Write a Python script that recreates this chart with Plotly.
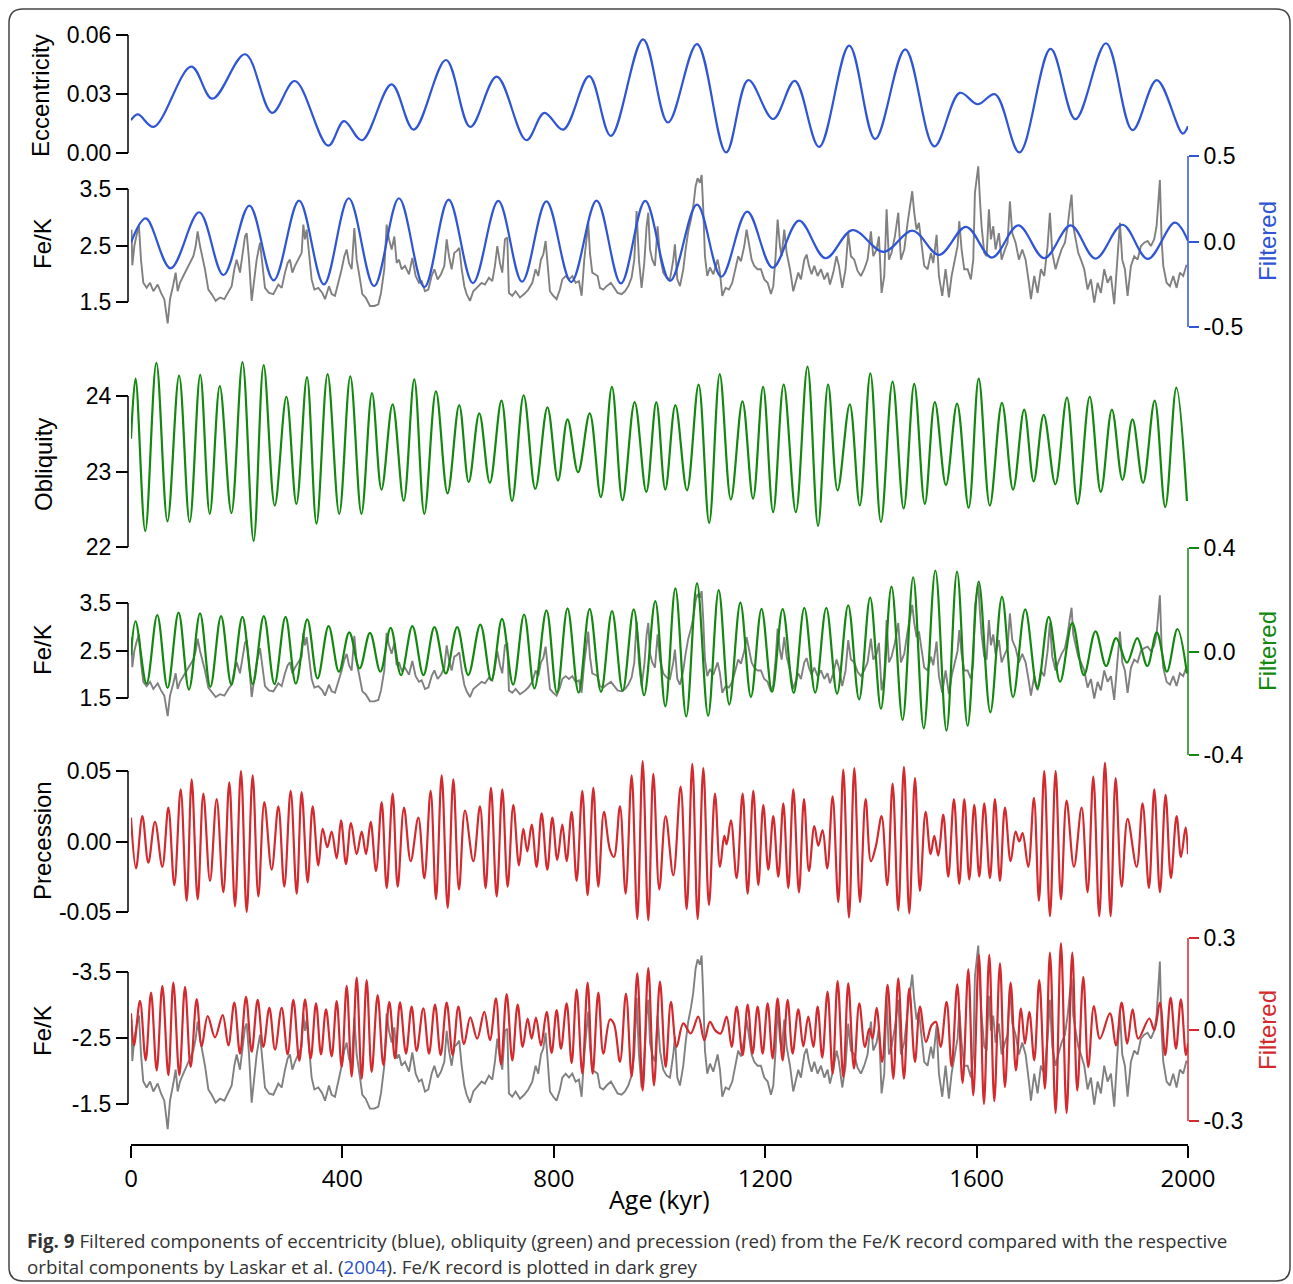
import plotly.graph_objects as go

# ---------------- data ----------------
ecc_age = [0, 13, 43, 114, 154, 216, 267, 310, 373, 403, 437, 493, 535, 596, 642, 692, 748, 782, 818, 867,
           908, 969, 1016, 1071, 1126, 1168, 1215, 1256, 1302, 1359, 1408, 1465, 1520, 1568, 1602, 1635, 1681,
           1740, 1787, 1845, 1895, 1941, 1990, 2000]
ecc_val = [0.0167, 0.0196, 0.0133, 0.0439, 0.0276, 0.0502, 0.0204, 0.0366, 0.0037, 0.0162, 0.0065, 0.0349,
           0.0119, 0.0473, 0.0133, 0.0388, 0.0065, 0.0204, 0.0119, 0.0391, 0.0087, 0.0578, 0.0155, 0.0554,
           0.0003, 0.0371, 0.0173, 0.0367, 0.0031, 0.0546, 0.0071, 0.0527, 0.0034, 0.0306, 0.0248, 0.0299,
           0.0003, 0.0529, 0.0172, 0.0558, 0.0116, 0.0371, 0.0099, 0.0136]

ecc_filt_age = [0, 28, 75, 129, 175, 224, 270, 318, 365, 412, 460, 507, 555, 601, 647, 695, 740, 786, 833, 881,
                927, 973, 1020, 1071, 1117, 1166, 1214, 1264, 1314, 1365, 1424, 1479, 1529, 1580, 1629, 1679,
                1728, 1778, 1825, 1876, 1924, 1975, 2000]
ecc_filt_val = [-0.006, 0.135, -0.157, 0.171, -0.196, 0.210, -0.227, 0.239, -0.251, 0.253, -0.261, 0.253,
                -0.267, 0.245, -0.243, 0.237, -0.235, 0.235, -0.237, 0.239, -0.245, 0.237, -0.231, 0.216,
                -0.206, 0.175, -0.153, 0.122, -0.098, 0.067, -0.061, 0.063, -0.078, 0.086, -0.094, 0.094,
                -0.098, 0.094, -0.100, 0.098, -0.102, 0.110, 0.004]

obl_age = [0, 8.6, 27, 48, 69, 91, 111, 131, 149, 168, 190, 211, 232, 251, 272, 294, 313, 333, 351, 372,
           394, 415, 436, 456, 474, 495, 516, 536, 555, 577, 599, 621, 639, 659, 679, 701, 721, 743, 765, 788,
           808, 826, 846, 868, 889, 910, 930, 953, 975, 994, 1011, 1030, 1052, 1074, 1094, 1114, 1135, 1157,
           1177, 1196, 1215, 1235, 1258, 1280, 1300, 1319, 1337, 1360, 1379, 1399, 1419, 1441, 1462, 1482,
           1502, 1521, 1542, 1563, 1585, 1604, 1625, 1648, 1669, 1690, 1708, 1727, 1749, 1771, 1791, 1814,
           1835, 1856, 1876, 1895, 1915, 1937, 1957, 1978, 1998]
obl_val = [23.435, 24.23, 22.21, 24.44, 22.34, 24.27, 22.33, 24.28, 22.44, 24.13,
           22.45, 24.45, 22.08, 24.41, 22.55, 23.99, 22.57, 24.25, 22.31, 24.29,
           22.44, 24.26, 22.44, 24.04, 22.76, 23.89, 22.61, 24.22, 22.44, 24.06,
           22.71, 23.88, 22.86, 23.77, 22.85, 23.94, 22.61, 24.01, 22.77, 23.85,
           22.88, 23.69, 22.99, 23.77, 22.66, 24.12, 22.62, 23.92, 22.73, 23.92,
           22.76, 23.88, 22.75, 24.15, 22.32, 24.29, 22.63, 23.93, 22.64, 24.12,
           22.46, 24.15, 22.46, 24.39, 22.28, 24.15, 22.75, 23.89, 22.55, 24.30,
           22.33, 24.19, 22.51, 24.16, 22.57, 23.92, 22.82, 23.90, 22.52, 24.23,
           22.55, 23.91, 22.76, 23.82, 22.87, 23.75, 22.83, 23.98, 22.57, 23.99,
           22.73, 23.82, 22.89, 23.69, 22.85, 23.94, 22.53, 24.11, 22.61]

obl_filt_age = [0, 8.6, 29.4, 49.7, 69.2, 90, 109.7, 130.6, 150.1, 170.4,
                190, 210.8, 230.4, 251.3, 271.5, 292.4, 311.9, 333.5, 353, 373.9,
                393.5, 413, 432.6, 452.2, 471.8, 491.3, 510.9, 532.4, 553.3, 574.2,
                595.7, 617.2, 638.1, 661, 681.8, 702, 723, 743.8, 763.4, 786.2,
                805.8, 826, 846.9, 867.8, 889.3, 910.2, 930.4, 951.3, 970.9, 992,
                1011, 1030, 1050.6, 1071, 1092, 1112, 1132, 1153, 1173, 1193,
                1213, 1233, 1254, 1274, 1294.6, 1315.6, 1336, 1357, 1377.7, 1398.6,
                1419, 1439, 1460, 1480, 1500, 1522, 1543, 1563, 1583, 1604,
                1626, 1648, 1669, 1692, 1715, 1736.5, 1758, 1781, 1803, 1825,
                1845, 1864, 1884.5, 1904, 1923, 1941, 1960, 1980, 1998]
obl_filt_val = [-0.013, 0.117, -0.124, 0.141, -0.141, 0.150, -0.147, 0.147, -0.137, 0.137,
                -0.128, 0.134, -0.126, 0.137, -0.126, 0.134, -0.124, 0.124, -0.104, 0.098,
                -0.078, 0.074, -0.065, 0.072, -0.078, 0.091, -0.091, 0.098, -0.091, 0.094,
                -0.085, 0.094, -0.091, 0.104, -0.111, 0.126, -0.128, 0.143, -0.143, 0.159,
                -0.159, 0.167, -0.159, 0.165, -0.156, 0.156, -0.152, 0.163, -0.169, 0.195,
                -0.212, 0.244, -0.251, 0.263, -0.248, 0.237, -0.205, 0.189, -0.176, 0.165,
                -0.156, 0.165, -0.160, 0.169, -0.159, 0.169, -0.163, 0.178, -0.185, 0.208,
                -0.221, 0.251, -0.264, 0.287, -0.297, 0.313, -0.306, 0.309, -0.287, 0.270,
                -0.235, 0.211, -0.176, 0.163, -0.143, 0.134, -0.117, 0.111, -0.091, 0.078,
                -0.056, 0.052, -0.043, 0.052, -0.056, 0.074, -0.078, 0.087, -0.085]

prec_age = [0, 9.5, 21.5, 32.8, 45.4, 59.3, 70.7, 82, 94, 105.3,
            114.8, 126.2, 136.9, 149.5, 162.1, 174.7, 186, 196.8, 208.1, 218.9,
            230.2, 241, 252.3, 266.2, 278.8, 290.1, 302.1, 313.5, 322.9, 334.3,
            343.7, 354.5, 362.7, 371.5, 379.7, 389.2, 397.4, 406.8, 416.3, 427,
            436.5, 444.7, 453.5, 463.6, 474.3, 483.8, 495.1, 504.6, 516.5, 529.2,
            543.7, 555, 567, 577.1, 587.8, 599.2, 609.9, 620.6, 632, 647.7,
            660.3, 671, 681.1, 691.9, 702.6, 712.7, 723.4, 734.1, 742.3, 749.9,
            758.1, 767.5, 777, 787.7, 797.2, 806.6, 816.1, 824.3, 833.8, 843.2,
            853.9, 864, 874.8, 884.2, 894.9, 906.3, 913.9, 925.2, 935.9, 947.3,
            958, 968.1, 978.8, 988.3, 999.6, 1011.6, 1026.1, 1040, 1051.4, 1062.1,
            1072.2, 1082.9, 1093.6, 1105, 1114.4, 1122.6, 1127, 1135.2, 1145.9, 1157.3,
            1166.8, 1177.5, 1187, 1196.4, 1205.9, 1215.3, 1224.8, 1234.3, 1243.7, 1253.2,
            1263.9, 1273.4, 1282.8, 1293, 1300.5, 1308.6, 1317.5, 1327.6, 1338.3, 1347.8,
            1358.5, 1368.6, 1379.3, 1390, 1400.1, 1409.6, 1420.3, 1431, 1441.1, 1451.8,
            1462.5, 1472.6, 1483.4, 1492.8, 1503.5, 1513, 1520, 1527.5, 1537, 1546.4,
            1557.1, 1567.2, 1576.7, 1586.2, 1595.6, 1605.1, 1614.5, 1625.3, 1634.7, 1644.2,
            1653.6, 1664.4, 1673.8, 1680.8, 1687, 1697.8, 1708.5, 1718, 1728, 1738.8,
            1749.5, 1759.6, 1770.3, 1784.2, 1798.7, 1810, 1820.8, 1832.1, 1842.9, 1853.6,
            1863, 1874.4, 1885.7, 1902.8, 1914.1, 1926.1, 1936.2, 1946.9, 1957.6, 1967.7,
            1978.4, 1986.7, 1995.5, 2000]
prec_val = [0.017, -0.019, 0.018, -0.015, 0.014, -0.018, 0.024, -0.031, 0.037, -0.042,
            0.044, -0.041, 0.034, -0.028, 0.030, -0.036, 0.042, -0.046, 0.050, -0.050,
            0.047, -0.039, 0.028, -0.020, 0.025, -0.032, 0.036, -0.037, 0.035, -0.029,
            0.025, -0.017, 0.009, -0.004, 0.007, -0.012, 0.015, -0.016, 0.013, -0.009,
            0.007, -0.009, 0.014, -0.021, 0.028, -0.033, 0.034, -0.032, 0.024, -0.014,
            0.017, -0.026, 0.036, -0.041, 0.047, -0.047, 0.044, -0.034, 0.022, -0.014,
            0.025, -0.033, 0.038, -0.039, 0.037, -0.032, 0.026, -0.017, 0.009, -0.007,
            0.012, -0.018, 0.020, -0.020, 0.017, -0.013, 0.012, -0.014, 0.021, -0.028,
            0.036, -0.038, 0.038, -0.032, 0.021, -0.006, -0.011, 0.025, -0.037, 0.047,
            -0.055, 0.057, -0.056, 0.048, -0.034, 0.018, -0.024, 0.039, -0.048, 0.055,
            -0.055, 0.052, -0.045, 0.034, -0.018, 0.004, -0.002, 0.015, -0.026, 0.034,
            -0.037, 0.036, -0.031, 0.026, -0.020, 0.018, -0.025, 0.027, -0.033, 0.037,
            -0.036, 0.030, -0.021, 0.011, -0.003, 0.008, -0.019, 0.032, -0.043, 0.051,
            -0.054, 0.052, -0.043, 0.030, -0.014, -0.003, 0.018, -0.031, 0.041, -0.049,
            0.053, -0.051, 0.045, -0.035, 0.021, -0.009, 0.004, -0.010, 0.019, -0.025,
            0.030, -0.030, 0.030, -0.027, 0.026, -0.025, 0.027, -0.026, 0.030, -0.028,
            0.024, -0.014, 0.007, 0.000, 0.006, -0.018, 0.031, -0.042, 0.050, -0.053,
            0.050, -0.041, 0.029, -0.018, 0.024, -0.036, 0.046, -0.053, 0.056, -0.053,
            0.045, -0.032, 0.016, -0.018, 0.027, -0.033, 0.037, -0.036, 0.033, -0.026,
            0.018, -0.011, 0.010, -0.009]

prec_filt_age = [0, 5.7, 17, 27.8, 37.9, 48.6, 59.3, 70.7, 80.1, 91.5,
                 102.2, 112.9, 124.3, 133.7, 145.1, 158.9, 173.5, 184.2, 195.5, 206.3,
                 217.6, 228.3, 239.7, 250.4, 261.8, 272.5, 285.1, 296.4, 307.2, 318.5,
                 329.3, 340, 350.1, 359.5, 369, 379.7, 389.2, 398.6, 408.1, 417.5,
                 427, 436.5, 445.9, 455.4, 466.7, 477.5, 488.8, 499.5, 509, 520.3,
                 531, 540.5, 553.1, 563.9, 575.2, 585.9, 597.3, 608.6, 619.4, 630.1,
                 642, 655, 668.5, 679.2, 690.6, 700.1, 710.8, 721.5, 731.6, 741.1,
                 750.5, 758.1, 766.3, 775.7, 786.5, 795.9, 805.4, 813.6, 824.3, 833.8,
                 843.2, 853.9, 864, 873.5, 884.2, 893.7, 906.3, 913.9, 925.2, 936.6,
                 947.3, 958, 968.1, 978.8, 989.5, 1000.9, 1011.6, 1021.7, 1032.4, 1045,
                 1059, 1073.4, 1084.8, 1095.5, 1105, 1115.7, 1127, 1136.5, 1146, 1157.3,
                 1166.8, 1176.2, 1185.7, 1195.2, 1204.6, 1214.1, 1223.5, 1233, 1242.4, 1251.9,
                 1262.6, 1272.1, 1281.5, 1291, 1299.2, 1308, 1318, 1327.6, 1337, 1347.8,
                 1357.2, 1367.9, 1378, 1388.7, 1397, 1403.3, 1410.8, 1421.5, 1431.6, 1442.4,
                 1451.8, 1462.5, 1472.6, 1483.4, 1492.8, 1504.2, 1514.9, 1523, 1531.9, 1543.3,
                 1552.7, 1563.5, 1573.5, 1584.3, 1593.7, 1604.4, 1613.9, 1624, 1633.5, 1644.2,
                 1653.6, 1664.4, 1674.4, 1683.9, 1691.5, 1699.7, 1709.1, 1718.6, 1729.3, 1738.8,
                 1749.5, 1759.6, 1770.3, 1781, 1790.5, 1801.9, 1811.3, 1822, 1833.4, 1852.3,
                 1863.6, 1874.4, 1885.1, 1895.2, 1905.9, 1926.7, 1936.2, 1946.9, 1956.9, 1967.1,
                 1977.2, 1986.6, 1996.1, 2000]
prec_filt_val = [0.053, -0.052, 0.094, -0.101, 0.121, -0.134, 0.143, -0.150, 0.154, -0.150,
                 0.140, -0.123, 0.100, -0.055, 0.044, -0.026, 0.047, -0.052, 0.088, -0.079,
                 0.107, -0.073, 0.097, -0.057, 0.071, -0.066, 0.071, -0.082, 0.097, -0.103,
                 0.099, -0.095, 0.086, -0.082, 0.066, -0.088, 0.093, -0.123, 0.143, -0.154,
                 0.170, -0.161, 0.162, -0.139, 0.113, -0.117, 0.091, -0.095, 0.089, -0.079,
                 0.075, -0.070, 0.069, -0.079, 0.082, -0.084, 0.088, -0.084, 0.075, -0.048,
                 0.040, -0.030, 0.058, -0.035, 0.102, -0.114, 0.116, -0.101, 0.082, -0.057,
                 0.036, -0.030, 0.039, -0.052, 0.058, -0.077, 0.064, -0.063, 0.086, -0.110,
                 0.132, -0.145, 0.154, -0.145, 0.121, -0.079, 0.033, 0.018, -0.106, 0.118,
                 -0.154, 0.184, -0.200, 0.201, -0.183, 0.157, -0.123, 0.091, -0.057, 0.020,
                 -0.013, 0.042, -0.035, 0.025, -0.002, -0.013, 0.042, -0.057, 0.075, -0.084,
                 0.082, -0.079, 0.075, -0.079, 0.086, -0.095, 0.102, -0.101, 0.097, -0.079,
                 0.066, -0.055, 0.042, -0.057, 0.075, -0.092, 0.124, -0.145, 0.159, -0.156,
                 0.151, -0.128, 0.086, -0.057, 0.003, -0.030, 0.071, -0.106, 0.146, -0.161,
                 0.168, -0.161, 0.135, -0.106, 0.075, -0.041, 0.014, 0.025, -0.057, 0.091,
                 -0.121, 0.148, -0.175, 0.197, -0.216, 0.245, -0.244, 0.245, -0.235, 0.217,
                 -0.189, 0.154, -0.134, 0.069, -0.046, 0.058, -0.101, 0.162, -0.194, 0.252,
                 -0.274, 0.283, -0.274, 0.252, -0.200, 0.173, -0.123, 0.077, -0.030, 0.053,
                 -0.052, 0.088, -0.046, 0.066, -0.030, 0.036, -0.002, 0.088, -0.084, 0.105,
                 -0.063, 0.099, -0.084, -0.046]

fek_age = [0, 1, 2.5, 6.3, 10.7, 15.1, 18.9, 23.3, 29.6, 36,
           42.3, 50.5, 56.8, 63, 69.4, 73.8, 80.1, 84.5, 88.3, 92.7,
           99, 105.3, 111.6, 118, 122.4, 126.1, 130.6, 135, 140, 146.3,
           152.6, 160.2, 168.4, 176.6, 184.2, 190.5, 195.5, 199.9, 206.2, 210.7,
           215.7, 218.9, 223.3, 228.3, 233.4, 237.8, 244.1, 248.5, 253.5, 261.1,
           269.3, 278.8, 285.1, 291.4, 296.4, 300.8, 305.3, 310.3, 316.6, 322.9,
           326.1, 329.2, 332.4, 336.8, 341.8, 346.9, 354.5, 362, 367.1, 374.6,
           379.7, 386, 392.3, 398.6, 403.6, 408.1, 412.5, 417.5, 422.6, 427,
           433.3, 437.7, 444, 452.2, 460.4, 468, 473, 479.3, 483.7, 488.2,
           493.2, 498.3, 502.7, 507.1, 512.1, 518.4, 526, 532.3, 538.6, 544.9,
           550, 556.3, 562.6, 568.9, 574, 580.2, 586.5, 592.9, 597.3, 601.7,
           606.7, 611.8, 616.2, 621.2, 625.7, 630.7, 635.1, 641.4, 647.7,
           657.1, 663.4, 669.7, 677.3, 683.6, 688.6, 693.1, 698.1, 702.5, 707.6,
           712, 715.1, 721.4, 727.7, 736, 744.1, 751.7, 759.3, 765.6, 770.6,
           775.7, 780.1, 784.5, 788.3, 792.7, 799, 805.3, 811.6, 816.1, 822.4,
           828.7, 835, 841.3, 847.6, 852.6, 857.7, 862.1, 865.2, 868.4, 872.8,
           877.9, 882.9, 887.3, 893.6, 900, 908.1, 914.4, 920.7, 928.3, 934.6,
           940.9, 947.2, 952.3, 956.7, 961.1, 966.1, 971.2, 975.6, 978.8, 982,
           986.3, 991.4, 996.4, 1000.9, 1007.1, 1013.5, 1019.8, 1026.1, 1029.2, 1033.7,
           1038.7, 1045, 1049.4, 1054.4, 1059.5, 1063.9, 1068.3, 1072.1, 1076.5, 1079.7,
           1082.8, 1086, 1090.4, 1095.5, 1101.8, 1110, 1114.4, 1118.8, 1125.1, 1131.4,
           1137.7, 1144, 1149, 1154.1, 1160.4, 1164.8, 1169.3, 1174.3, 1179.3, 1185.6,
           1191.9, 1198.2, 1204.6, 1210.9, 1215.3, 1219.7, 1223.5, 1227.9, 1231.1, 1236.1,
           1240.6, 1246.9, 1253.1, 1257.6, 1262.6, 1267.6, 1274, 1278.4, 1282.8, 1287.8,
           1292.9, 1299.2, 1305.5, 1311.8,
           1318, 1322.5, 1328.8, 1335, 1339.5, 1345.8, 1352.1, 1357.1, 1362.2, 1368.5,
           1374.8, 1381.1, 1387.4, 1393.7, 1400, 1404.5, 1410.8, 1415.2, 1420.2, 1425.3,
           1429.7, 1434.1, 1439.1, 1445.4, 1451.8, 1456.8, 1463.1, 1469.4, 1473.8, 1478.2,
           1482, 1486.4, 1490.9, 1495.9, 1500.9, 1507.3, 1513.6, 1518, 1524.3, 1528.7,
           1535, 1541.3, 1547.6, 1552.7, 1559, 1564, 1567.2, 1571.6, 1576.6, 1583,
           1589.2, 1593.7, 1596.8, 1600, 1603.1, 1606.3, 1609.4, 1614.5, 1618.9, 1623.3,
           1627.1, 1631.5, 1635.9, 1642.2, 1647.3, 1653.6, 1658.6, 1663, 1667.5, 1673.8,
           1680.1, 1686.4, 1692.7, 1699, 1702.8, 1709.1, 1715.4, 1721.7, 1728, 1734.3,
           1738.7, 1743.2, 1749.4, 1754.5, 1760.8, 1767.1, 1772.2, 1776.6, 1779.7, 1782.9,
           1787.3, 1792.3, 1797.4, 1803.7, 1810, 1816.3, 1822.6, 1829, 1835.2, 1841.5,
           1847.8, 1854.2, 1860.4, 1866.8, 1871.2, 1875.6, 1880.6, 1885.7, 1892, 1898.3,
           1904.6, 1910.9, 1917.2, 1923.5, 1929.8, 1936.1, 1940.5, 1943.7, 1946.8, 1950,
           1953.2, 1959.5, 1965.8, 1972.1, 1978.4, 1984.7, 1991, 1997.3]
fek_val = [2.58, 2.78, 2.15, 2.49, 2.69, 2.84, 2.25, 1.84, 1.75, 1.84,
           1.69, 1.81, 1.66, 1.55, 1.12, 1.55, 1.81, 2.02, 1.69, 1.84,
           1.96, 2.08, 2.19, 2.31, 2.49, 2.75, 2.49, 2.31, 2.08, 1.72,
           1.64, 1.52, 1.58, 1.55, 1.69, 1.78, 2.08, 2.25, 2.02, 2.31,
           2.66, 2.72, 2.25, 1.52, 1.90, 2.25, 2.55, 2.14, 1.75, 1.66,
           1.64, 1.81, 1.75, 2.02, 2.19, 2.25, 2.02, 2.14, 2.25, 2.37,
           2.87, 2.61, 2.78, 2.31, 1.90, 1.72, 1.75, 1.66, 1.55, 1.78,
           1.64, 1.61, 1.84, 2.08, 2.31, 2.43, 2.19, 2.08, 2.81, 2.25,
           1.90, 1.64, 1.58, 1.43, 1.43, 1.46, 1.66, 2.08, 2.87, 2.61,
           2.43, 2.66, 2.19, 2.25, 2.08, 2.14, 1.99, 2.28, 1.96, 1.84,
           1.87, 1.69, 1.72, 1.96, 2.08, 1.90, 1.99, 2.14, 2.61, 2.31,
           2.08, 2.37, 2.40, 2.46, 2.08, 1.78, 1.64, 1.52, 1.69,
           1.78, 1.84, 1.81, 1.93, 1.87, 2.14, 2.49, 2.19, 2.02, 2.61,
           2.64, 1.66, 1.61, 1.69, 1.58, 1.64, 1.72, 1.84, 2.08, 1.96,
           2.25, 2.34, 2.58, 2.14, 1.69, 1.61, 1.55, 1.72, 1.90, 1.96,
           1.90, 1.96, 1.84, 1.87, 1.61, 2.25, 2.61, 2.90, 2.37, 2.02,
           1.99, 1.96, 1.75, 1.72, 1.78, 1.84, 1.75, 1.66, 1.64, 1.69,
           1.78, 1.93, 2.25, 3.11, 2.25, 1.75, 2.19, 2.84, 3.08, 2.43,
           2.25, 2.14, 2.84, 2.31, 2.02, 1.93, 1.90, 2.25, 2.52, 1.90,
           1.78, 2.08, 2.43, 2.75, 2.96, 3.19, 3.55, 3.69, 3.61, 3.75,
           3.14, 2.31, 1.96, 2.11, 1.99, 2.25, 2.02, 1.61, 1.75, 1.72,
           1.84, 2.11, 2.31, 2.22, 2.49, 2.78, 2.49, 2.25, 2.14, 2.08,
           2.08, 1.90, 1.84, 1.64, 1.78, 2.31, 2.96, 2.49, 2.31, 2.78,
           2.37, 2.08, 1.69, 1.84, 2.02, 1.90, 2.25, 2.34, 2.14, 1.99,
           2.14, 1.96, 2.08, 1.90,
           2.02, 1.81, 2.02, 2.31, 2.14, 1.75, 2.08, 2.72, 2.31, 2.25,
           2.05, 1.96, 2.08, 2.25, 2.75, 2.31, 2.43, 2.66, 1.66, 1.96,
           3.14, 2.25, 2.37, 2.66, 3.08, 2.25, 2.43, 2.90, 3.19, 3.46,
           3.08, 2.78, 2.90, 2.55, 2.14, 2.08, 2.37, 2.19, 2.69, 1.96,
           1.61, 2.08, 1.58, 1.96, 2.25, 2.49, 2.93, 2.43, 2.08, 2.08,
           1.90, 2.25, 3.43, 3.66, 3.90, 3.31, 2.84, 2.37, 2.31, 3.14,
           2.61, 2.84, 2.43, 2.72, 2.25, 2.43, 2.55, 3.28, 2.72, 2.55,
           2.25, 2.43, 2.25, 1.84, 1.55, 1.96, 1.66, 2.08, 1.96, 2.49,
           3.08, 2.37, 2.08, 2.25, 2.43, 2.55, 2.84, 3.19, 3.40, 2.84,
           2.61, 2.37, 2.25, 2.08, 1.72, 1.90, 1.49, 1.84, 1.66, 2.08,
           1.84, 1.96, 1.46, 2.25, 2.90, 2.25, 2.08, 1.61, 2.14, 2.31,
           2.25, 2.49, 2.55, 2.58, 2.49, 2.61, 2.84, 3.25, 3.66, 2.61,
           2.14, 1.84, 1.78, 1.96, 1.75, 2.02, 1.96, 2.16]

age_ticks = [0, 400, 800, 1200, 1600, 2000]

# ---------------- styling / layout ----------------
W, H = 1293, 1284
BLUE, GREEN, RED, GREY = '#2f55d4', '#12880f', '#d22a2e', '#808080'
FONT = 'Liberation Sans, Arial, sans-serif'
FONT2 = 'Open Sans, Noto Sans, sans-serif'
TICKFONT = dict(family=FONT, size=23, color='black')

XL = 128 / W      # left axes line position
XR = 1188 / W     # right axes line position


def ax(v1, p1, v2, p2, top, bot):
    """range + domain so that value v1 sits at pixel row p1 and v2 at p2."""
    s = (p2 - p1) / (v2 - v1)
    val = lambda p: v1 + (p - p1) / s
    return [val(bot), val(top)], [1 - bot / H, 1 - top / H]


r1, d1 = ax(0.06, 35, 0.0, 153, 30, 158)
r2, d2 = ax(3.5, 189, 1.5, 302, 154, 330)
r2b, _ = ax(0.5, 156, -0.5, 327, 154, 330)
r3, d3 = ax(24, 396, 22, 547, 355, 550)
r4, d4 = ax(3.5, 603, 1.5, 698, 546, 757)
r4b, _ = ax(0.4, 548, -0.4, 755, 546, 757)
r5, d5 = ax(0.05, 771, -0.05, 912, 756, 924)
r6, d6 = ax(3.5, 972, 1.5, 1104, 936, 1134)
r6b, _ = ax(0.3, 938, -0.3, 1121, 936, 1134)

fig = go.Figure()


def add(x, y, yax, color, spline=True, width=2.2):
    line = dict(color=color, width=width)
    if spline:
        line.update(shape='spline', smoothing=1.0)
    fig.add_trace(go.Scatter(x=x, y=y, mode='lines', line=line, yaxis=yax,
                             xaxis='x', showlegend=False, hoverinfo='skip'))


add(ecc_age, ecc_val, 'y', BLUE)
add(fek_age, fek_val, 'y2', GREY, spline=False, width=1.9)
add(ecc_filt_age, ecc_filt_val, 'y3', BLUE)
add(obl_age, obl_val, 'y4', GREEN)
add(fek_age, fek_val, 'y5', GREY, spline=False, width=1.9)
add(obl_filt_age, obl_filt_val, 'y6', GREEN)
add(prec_age, prec_val, 'y7', RED)
add(fek_age, fek_val, 'y8', GREY, spline=False, width=1.9)
add(prec_filt_age, prec_filt_val, 'y9', RED)


def left_axis(rng, dom, vals, texts):
    return dict(range=rng, domain=dom, anchor='free', position=XL, side='left',
                showline=False, showgrid=False, zeroline=False, ticks='outside',
                ticklen=12, tickwidth=1.5, tickcolor='black', tickvals=vals,
                ticktext=texts, tickfont=TICKFONT, fixedrange=True, automargin=False)


def right_axis(rng, base, color, vals, texts):
    return dict(range=rng, overlaying=base, anchor='free', position=XR, side='right',
                showline=False, showgrid=False, zeroline=False, ticks='outside',
                ticklen=10, tickwidth=1.5, tickcolor=color, tickvals=vals,
                ticktext=texts, tickfont=TICKFONT, fixedrange=True, automargin=False)


fig.update_layout(
    template='none',
    width=W, height=H, autosize=False,
    margin=dict(l=0, r=0, t=0, b=0, pad=0, autoexpand=False),
    showlegend=False,
    paper_bgcolor='white', plot_bgcolor='rgba(0,0,0,0)',
    xaxis=dict(domain=[131 / W, 1188 / W], range=[0, 2000], anchor='free',
               position=1 - 1145 / H, showline=True, linecolor='black', linewidth=1.5,
               ticks='outside', ticklen=12, tickwidth=1.5, tickcolor='black',
               tickvals=age_ticks, ticktext=[str(v) for v in age_ticks],
               tickfont=dict(family=FONT2, size=24, color='black'),
               showgrid=False, zeroline=False, fixedrange=True, automargin=False),
    yaxis=left_axis(r1, d1, [0, 0.03, 0.06], ['0.00', '0.03', '0.06']),
    yaxis2=left_axis(r2, d2, [1.5, 2.5, 3.5], ['1.5', '2.5', '3.5']),
    yaxis3=right_axis(r2b, 'y2', BLUE, [-0.5, 0, 0.5], ['-0.5', '0.0', '0.5']),
    yaxis4=left_axis(r3, d3, [22, 23, 24], ['22', '23', '24']),
    yaxis5=left_axis(r4, d4, [1.5, 2.5, 3.5], ['1.5', '2.5', '3.5']),
    yaxis6=right_axis(r4b, 'y5', GREEN, [-0.4, 0, 0.4], ['-0.4', '0.0', '0.4']),
    yaxis7=left_axis(r5, d5, [-0.05, 0, 0.05], ['-0.05', '0.00', '0.05']),
    yaxis8=left_axis(r6, d6, [1.5, 2.5, 3.5], ['-1.5', '-2.5', '-3.5']),
    yaxis9=right_axis(r6b, 'y8', RED, [-0.3, 0, 0.3], ['-0.3', '0.0', '0.3']),
)

# axis spines spanning only the tick range
shapes = []
for yref, lo, hi, xpos, col in [('y', 0, 0.06, XL, 'black'), ('y2', 1.5, 3.5, XL, 'black'),
                                ('y3', -0.5, 0.5, XR, BLUE), ('y4', 22, 24, XL, 'black'),
                                ('y5', 1.5, 3.5, XL, 'black'), ('y6', -0.4, 0.4, XR, GREEN),
                                ('y7', -0.05, 0.05, XL, 'black'), ('y8', 1.5, 3.5, XL, 'black'),
                                ('y9', -0.3, 0.3, XR, RED)]:
    shapes.append(dict(type='line', xref='paper', yref=yref, x0=xpos, x1=xpos, y0=lo, y1=hi,
                       line=dict(color=col, width=1.5), layer='above'))

# rounded outer frame
fx0, fx1 = 9 / W, 1290 / W
fyt, fyb = 1 - 9 / H, 1 - 1281 / H
rx, ry = 14 / W, 14 / H
path = (f"M {fx0+rx},{fyt} L {fx1-rx},{fyt} Q {fx1},{fyt} {fx1},{fyt-ry} "
        f"L {fx1},{fyb+ry} Q {fx1},{fyb} {fx1-rx},{fyb} L {fx0+rx},{fyb} "
        f"Q {fx0},{fyb} {fx0},{fyb+ry} L {fx0},{fyt-ry} Q {fx0},{fyt} {fx0+rx},{fyt} Z")
shapes.append(dict(type='path', xref='paper', yref='paper', path=path,
                   line=dict(color='#444444', width=1.5)))
fig.update_layout(shapes=shapes)

# axis titles and caption
ann = []


def label(text, px, py, color='black', size=24, angle=-90, family=FONT):
    ann.append(dict(text=text, x=px / W, y=1 - py / H, xref='paper', yref='paper',
                    showarrow=False, textangle=angle, xanchor='center', yanchor='middle',
                    font=dict(family=family, size=size, color=color)))


label('Eccentricity', 40, 96)
label('Fe/K', 42, 244)
label('Obliquity', 43, 465)
label('Fe/K', 42, 650)
label('Precession', 42, 841)
label('Fe/K', 42, 1031)
label('Filtered', 1267, 241, BLUE)
label('Filtered', 1267, 651, GREEN)
label('Filtered', 1267, 1030, RED)
label('Age (kyr)', 659, 1199, angle=0, size=25, family=FONT2)

cap_font = dict(family=FONT2, size=18.75, color='#333333')
ann.append(dict(text='<b>Fig. 9</b> Filtered components of eccentricity (blue), obliquity (green) and '
                     'precession (red) from the Fe/K record compared with the respective',
                x=25 / W, y=1 - 1240 / H, xref='paper', yref='paper', showarrow=False,
                xanchor='left', yanchor='middle', font=cap_font))
ann.append(dict(text="orbital components by Laskar et al. (<span style='color:#2a52c9'>2004</span>). "
                     "Fe/K record is plotted in dark grey",
                x=25 / W, y=1 - 1266 / H, xref='paper', yref='paper', showarrow=False,
                xanchor='left', yanchor='middle', font=cap_font))
fig.update_layout(annotations=ann)

post = ("document.documentElement.style.margin='0';document.body.style.margin='0';"
        "document.documentElement.style.overflow='hidden';document.body.style.overflow='hidden';")
fig.write_html("out.html", config={'responsive': False, 'displayModeBar': False},
               default_width='%dpx' % W, default_height='%dpx' % H, post_script=post)
